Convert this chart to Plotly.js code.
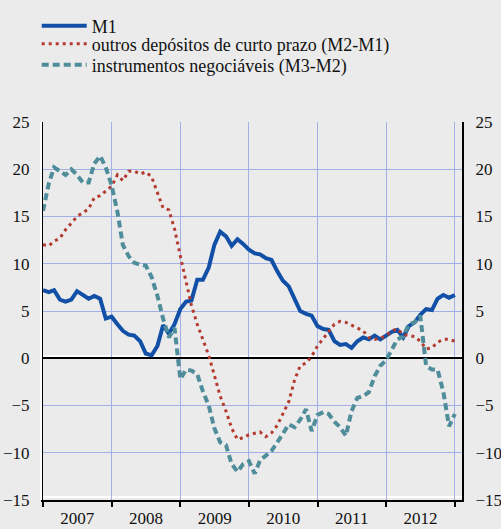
<!DOCTYPE html>
<html>
<head>
<meta charset="utf-8">
<script src="https://cdn.plot.ly/plotly-3.0.1.min.js"></script>
<style>html,body{margin:0;padding:0;background:#ebebeb;}#chart{width:501px;height:529px;}</style>
</head>
<body>
<div id="chart"></div>
<script>
// Monthly observations, Jan 2007 .. Jan 2013
const startYear = 2007;
const seriesNames = ["M1", "outros depósitos de curto prazo (M2-M1)", "instrumentos negociáveis (M3-M2)"];
const m1 = [7.2,7.0,7.2,6.2,6.0,6.2,7.1,6.7,6.3,6.6,6.3,4.2,
            4.4,3.6,2.9,2.5,2.4,1.8,0.5,0.3,1.3,3.5,2.6,3.6,
            5.2,6.0,6.1,8.3,8.3,9.6,12.0,13.4,12.9,11.9,12.6,12.1,
            11.5,11.1,11.0,10.6,10.4,9.2,8.2,7.6,6.2,5.0,4.7,4.5,
            3.4,3.1,3.0,1.8,1.4,1.5,1.1,1.8,2.2,2.0,2.4,2.0,
            2.4,2.8,3.0,2.2,3.4,3.8,4.6,5.2,5.1,6.3,6.7,6.4,
            6.7];
const m2m1 = [12.0,11.9,12.4,12.7,13.6,14.3,15.0,15.4,15.8,17.0,17.2,17.7,
              18.2,19.4,18.8,19.8,19.8,19.5,19.7,19.2,17.5,15.9,15.7,13.7,
              10.8,7.9,5.6,3.6,2.0,0.3,-1.8,-4.0,-5.6,-7.4,-8.6,-8.4,
              -8.1,-7.9,-7.8,-8.3,-7.9,-7.1,-5.8,-4.6,-2.3,-0.8,-0.5,0.2,
              1.3,2.1,2.8,3.6,3.9,3.8,3.5,3.2,2.9,2.2,2.0,2.1,
              2.4,2.9,3.1,2.5,2.4,2.3,1.8,1.0,1.1,1.7,2.0,2.0,
              1.8];
const m3m2 = [15.6,18.5,20.2,19.8,19.4,20.0,19.4,18.6,18.6,20.6,21.4,20.2,
              18.3,15.5,12.0,10.8,10.1,9.9,9.8,8.6,6.6,4.2,2.2,3.2,
              -2.2,-1.2,-1.3,-1.7,-3.5,-5.0,-7.4,-8.9,-9.2,-11.2,-12.0,-11.2,
              -10.9,-12.2,-10.8,-10.3,-9.8,-8.9,-7.9,-7.0,-7.3,-6.5,-5.4,-7.7,
              -6.0,-5.7,-5.9,-6.7,-7.3,-8.2,-5.6,-4.2,-4.0,-3.6,-1.9,-0.8,
              -0.2,1.0,2.0,2.3,3.6,3.8,4.5,-0.8,-1.2,-1.2,-3.6,-7.2,
              -5.9];
const yTicks = [-15,-10,-5,0,5,10,15,20,25];

function monthDates(n){
  const out=[];
  for(let i=0;i<n;i++){
    const y=startYear+Math.floor(i/12), m=(i%12)+1;
    out.push(y+"-"+(m<10?"0":"")+m+"-01");
  }
  return out;
}
const dates = monthDates(m1.length);

const font = {family:"Liberation Serif", size:17, color:"#111"};
const legendFont = {family:"Liberation Serif", size:18, color:"#111"};
const grid = "#a3b0e6";

const traces = [
  {x:dates, y:m1, name:seriesNames[0], type:"scatter", mode:"lines", legend:"legend",
   line:{color:"#1150a6", width:4}},
  {x:dates, y:m2m1, name:seriesNames[1], type:"scatter", mode:"lines", legend:"legend2",
   line:{color:"#b23a2e", width:3, dash:"3px,4px"}},
  {x:dates, y:m3m2, name:seriesNames[2], type:"scatter", mode:"lines", legend:"legend3",
   line:{color:"#4f8d9b", width:4, dash:"7px,4px"}},
  {x:dates, y:m1, yaxis:"y2", showlegend:false, hoverinfo:"skip", mode:"lines",
   line:{color:"rgba(0,0,0,0)", width:0}}
];

function legendAt(py){
  return {x:-0.015, y:1 + (122 - py)/378, xanchor:"left", yanchor:"middle", itemwidth:45,
          bgcolor:"rgba(0,0,0,0)", font:legendFont};
}

const layout = {
  width:501, height:529,
  paper_bgcolor:"#ebebeb", plot_bgcolor:"#ebebeb",
  font:font,
  margin:{l:43, r:39, t:122, b:29, autoexpand:false},
  showlegend:true,
  legend:legendAt(26),
  legend2:legendAt(44),
  legend3:legendAt(65),
  xaxis:{type:"date", range:["2007-01-01","2013-02-08"], dtick:"M12", tick0:"2007-01-01",
         tickformat:"%Y", ticklabelmode:"period", showgrid:true, gridcolor:grid, gridwidth:1,
         ticks:"outside", ticklen:5, tickcolor:"#000", tickwidth:2, ticklabelstandoff:-3,
         showline:true, linecolor:"#000", linewidth:2, zeroline:false, tickfont:font},
  yaxis:{range:[-15,25], tickvals:yTicks, showgrid:true, gridcolor:grid, gridwidth:1,
         zeroline:true, zerolinecolor:"#000", zerolinewidth:2,
         showline:true, linecolor:"#000", linewidth:2, ticks:"", ticklabelstandoff:8, tickfont:font},
  yaxis2:{range:[-15,25], tickvals:yTicks, overlaying:"y", side:"right", showgrid:false,
          zeroline:false, showline:true, linecolor:"#000", linewidth:2, ticks:"",
          ticklabelstandoff:8, tickfont:font},
  shapes:[
    {type:"line", layer:"below", xref:"paper", x0:0, x1:1, yref:"y", ysizemode:"pixel",
     yanchor:0, y0:2, y1:2, line:{color:"#ffffff", width:2}},
    {type:"line", layer:"below", xref:"paper", x0:0, x1:1, yref:"paper", ysizemode:"pixel",
     yanchor:0, y0:3, y1:3, line:{color:"#ffffff", width:2}},
    {type:"line", layer:"above", yref:"paper", y0:0, y1:1, xref:"paper", xsizemode:"pixel",
     xanchor:0, x0:-2, x1:-2, line:{color:"#ffffff", width:2}}
  ]
};

Plotly.newPlot("chart", traces, layout, {displayModeBar:false, staticPlot:true});
</script>
</body>
</html>
